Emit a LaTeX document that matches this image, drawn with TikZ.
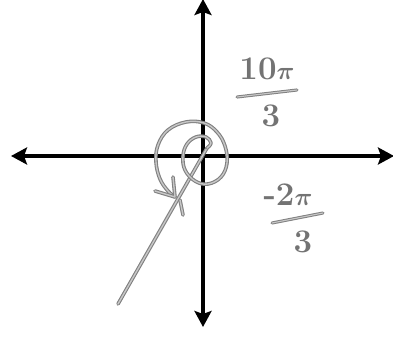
\documentclass[tikz,border=0pt]{standalone}
\usepackage{amsmath}
\usetikzlibrary{arrows.meta}
\begin{document}
\begin{tikzpicture}[x=1pt,y=-1pt,
  axis/.style={line width=4pt,black,{Stealth[length=16pt,width=17pt,inset=3pt]}-{Stealth[length=16pt,width=17pt,inset=3pt]}},
  pencil/.style={draw=black!50,double=black!22,line width=1.1pt,double distance=1.4pt,line cap=round,line join=round},
  hand/.style={text=black!55,font=\fontsize{33}{35}\selectfont\bfseries,inner sep=0pt},
  bar/.style={draw=black!50,double=black!22,line width=1pt,double distance=1.1pt,line cap=round}]
\useasboundingbox (0,0) rectangle (393,339);
% axes
\coordinate (O) at (203,156);
\coordinate (L) at (11,156);
\coordinate (R) at (394,156);
\coordinate (T) at (203,-1);
\coordinate (B) at (203,327);
\draw[axis] (L) -- (R);
\draw[axis] (T) -- (B);
% terminal line
\coordinate (S) at (207,148);
\coordinate (E) at (118,304);
\draw[pencil] (S) -- (E);
% spiral
\draw[pencil] plot[smooth,tension=0.65] coordinates {
 (207,148) (211,143) (206,137) (196,137) (187,144) (183,156) (185,170) (195,181)
 (208,184) (221,177) (227,163) (225,146) (217,132) (204,123) (186,122) (168,130)
 (158,145) (156,162) (160,179) (168,191) (175,197)};
% arrow head of spiral
\coordinate (tip) at (175,197);
\coordinate (a1) at (173,177);
\coordinate (a2) at (155,191);
\draw[pencil] (a1) -- (tip) -- (a2);
\coordinate (k1) at (180,200);
\coordinate (k2) at (183,215);
\draw[pencil] (k1) -- (k2);
% label 10pi/3
\node[hand] (n1) at (267,69) {10$\boldsymbol{\pi}$};
\coordinate (b1a) at (237,97);
\coordinate (b1b) at (297,90);
\draw[bar] (b1a) -- (b1b);
\node[hand] (d1) at (271,116) {3};
% label -2pi/3
\node[hand] (n2) at (288,195) {-2$\boldsymbol{\pi}$};
\coordinate (b2a) at (272,223);
\coordinate (b2b) at (323,213);
\draw[bar] (b2a) -- (b2b);
\node[hand] (d2) at (303,242) {3};
\end{tikzpicture}
\end{document}
